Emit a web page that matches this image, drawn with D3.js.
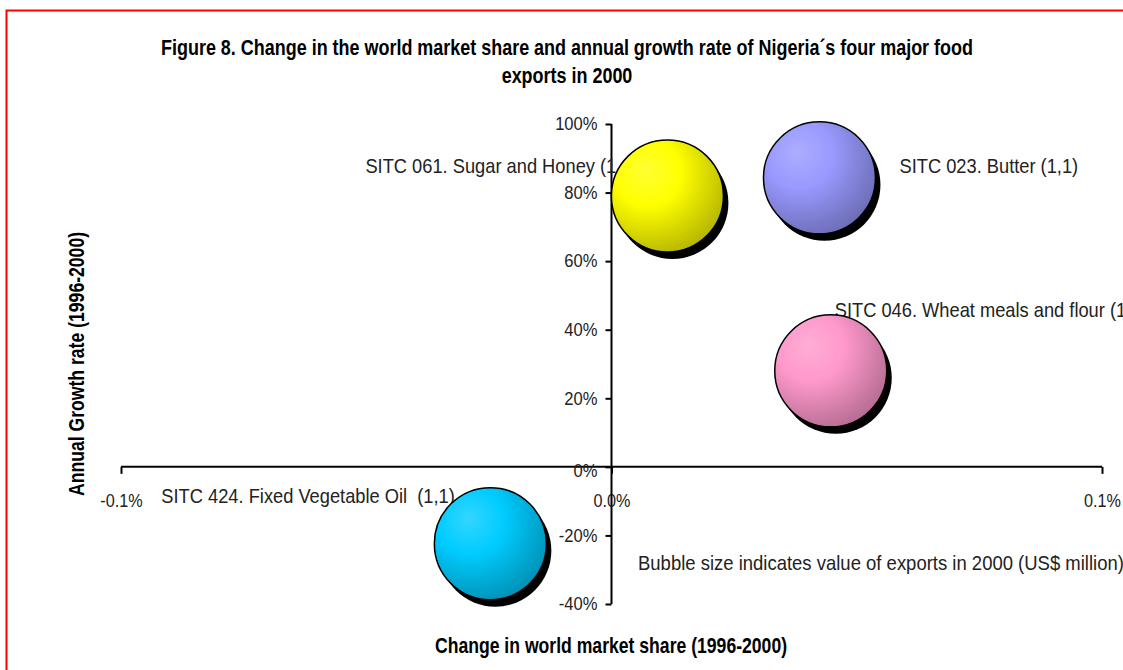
<!DOCTYPE html>
<html>
<head>
<meta charset="utf-8">
<script src="https://cdn.jsdelivr.net/npm/d3@7"></script>
<style>
  body { margin: 0; background: #fff; }
  svg { display: block; }
  text { font-family: "Liberation Sans", Arial, sans-serif; white-space: pre; }
</style>
</head>
<body>
<script>
// data
const categories = [
  'SITC 061. Sugar and Honey',
  'SITC 023. Butter',
  'SITC 046. Wheat meals and flour',
  'SITC 424. Fixed Vegetable Oil '
];
const shareChange = [0.0114, 0.0424, 0.0447, -0.0247];   // % points
const growthRate = [0.79, 0.843, 0.28, -0.224];
const exportValue = [1.1, 1.1, 1.1, 1.1];                 // US$ million
const bubbleColors = ['#ffff00', '#9999ff', '#ff99cc', '#00ccff'];
const xTicks = [-0.1, 0, 0.1];
const yTicks = [-0.4, -0.2, 0, 0.2, 0.4, 0.6, 0.8, 1.0];

// label placement relative to each bubble centre (layout only)
const labelNudge = [[-302, -30], [80, -12], [4, -61], [-329, -48]];

const width = 1123, height = 670;

// no Arial Narrow here, so squeeze the regular face sideways
function narrow(sel, k) {
  sel.each(function() {
    const w = this.getComputedTextLength();
    d3.select(this)
        .attr('textLength', w * k)
        .attr('lengthAdjust', 'spacingAndGlyphs');
  });
}

const svg = d3.select('body').append('svg')
    .attr('width', width)
    .attr('height', height);

const defs = svg.append('defs');

// red frame around the chart area
svg.append('rect')
    .attr('x', 6.5).attr('y', 10.5)
    .attr('width', 1130).attr('height', 680)
    .attr('fill', 'none')
    .attr('stroke', '#ff0000')
    .attr('stroke-width', 2);

const x = d3.scaleLinear().domain([-0.1, 0.1]).range([121, 1102]);
const y = d3.scaleLinear().domain([-0.4, 1.0]).range([604, 124]);
const r = d3.scaleSqrt().domain([0, 1.1]).range([0, 56]);

const hyphen = s => s.replace('\u2212', '-');

// title
const titleLines = [
  'Figure 8. Change in the world market share and annual growth rate of Nigeria\u00b4s four major food',
  'exports in 2000'
];
svg.append('g').selectAll('text')
  .data(titleLines)
  .join('text')
    .attr('x', 567)
    .attr('y', (d, i) => 55 + i * 28)
    .attr('text-anchor', 'middle')
    .attr('font-weight', 'bold')
    .attr('font-size', 22)
    .attr('fill', '#000')
    .text(d => d)
    .call(narrow, 0.816);

// axes
const xAxis = d3.axisBottom(x)
    .tickValues(xTicks)
    .tickSize(7)
    .tickFormat(d => hyphen(d3.format('.1f')(d)) + '%');

const yAxis = d3.axisLeft(y)
    .tickValues(yTicks)
    .tickSize(6)
    .tickFormat(d => hyphen(d3.format('.0%')(d)));

const gx = svg.append('g')
    .attr('transform', 'translate(0,' + y(0) + ')')
    .call(xAxis);
gx.select('.domain').attr('d', 'M' + x(-0.1) + ',0H' + x(0.1)).attr('stroke-width', 2);
gx.selectAll('.tick line').attr('stroke-width', 2);
gx.selectAll('.tick text')
    .attr('font-family', '"Liberation Sans", Arial, sans-serif')
    .attr('font-size', 18)
    .attr('fill', '#222')
    .attr('y', 27)
    .call(narrow, 0.9);

const gy = svg.append('g')
    .attr('transform', 'translate(' + x(0) + ',0)')
    .call(yAxis);
gy.select('.domain').attr('d', 'M0,' + y(1.0) + 'V' + y(-0.4)).attr('stroke-width', 2);
gy.selectAll('.tick line').attr('stroke-width', 2);
gy.selectAll('.tick text')
    .attr('font-family', '"Liberation Sans", Arial, sans-serif')
    .attr('font-size', 18)
    .attr('fill', '#222')
    .attr('x', -14)
    .attr('dy', d => d === 0 ? '0.55em' : '0.32em')
    .call(narrow, 0.92);

// axis titles
svg.append('text')
    .attr('x', 611).attr('y', 653)
    .attr('text-anchor', 'middle')
    .attr('font-weight', 'bold')
    .attr('font-size', 22)
    .text('Change in world market share (1996-2000)')
    .call(narrow, 0.8);

svg.append('text')
    .attr('transform', 'translate(84,364) rotate(-90)')
    .attr('text-anchor', 'middle')
    .attr('font-weight', 'bold')
    .attr('font-size', 22)
    .text('Annual Growth rate (1996-2000)')
    .call(narrow, 0.8);

const points = categories.map((c, i) => ({
  name: c,
  sx: shareChange[i],
  gy: growthRate[i],
  v: exportValue[i],
  color: bubbleColors[i],
  nudge: labelNudge[i]
}));

// radial gradients for the shaded bubbles
points.forEach((p, i) => {
  const grad = defs.append('radialGradient')
      .attr('id', 'grad' + i)
      .attr('cx', '0.35').attr('cy', '0.32').attr('r', '0.75')
      .attr('fx', '0.3').attr('fy', '0.27');
  const base = d3.color(p.color);
  grad.append('stop').attr('offset', '0%').attr('stop-color', d3.interpolateRgb(p.color, '#fff')(0.2));
  grad.append('stop').attr('offset', '40%').attr('stop-color', base.formatHex());
  grad.append('stop').attr('offset', '100%').attr('stop-color', base.darker(1).formatHex());
});

// data labels (bubbles are drawn over them)
svg.append('g').selectAll('text')
  .data(points)
  .join('text')
    .attr('x', d => x(d.sx) + d.nudge[0])
    .attr('y', d => y(d.gy) + d.nudge[1])
    .attr('dy', '0.35em')
    .attr('font-size', 21)
    .attr('fill', '#222')
    .text(d => d.name + ' (' + d3.format('.1f')(d.v).replace('.', ',') + ')')
    .call(narrow, 0.87);

const bubbles = svg.append('g').selectAll('g')
  .data(points)
  .join('g');

bubbles.append('circle')
    .attr('cx', d => x(d.sx) + 5)
    .attr('cy', d => y(d.gy) + 7)
    .attr('r', d => r(d.v))
    .attr('fill', '#000');

bubbles.append('circle')
    .attr('cx', d => x(d.sx))
    .attr('cy', d => y(d.gy))
    .attr('r', d => r(d.v))
    .attr('fill', (d, i) => 'url(#grad' + i + ')')
    .attr('stroke', '#000')
    .attr('stroke-width', 1.5);

// note on bubble size
svg.append('text')
    .attr('x', 638).attr('y', 563)
    .attr('dy', '0.35em')
    .attr('font-size', 21)
    .attr('fill', '#222')
    .text('Bubble size indicates value of exports in 2000 (US$ million)')
    .call(narrow, 0.88);
</script>
</body>
</html>
